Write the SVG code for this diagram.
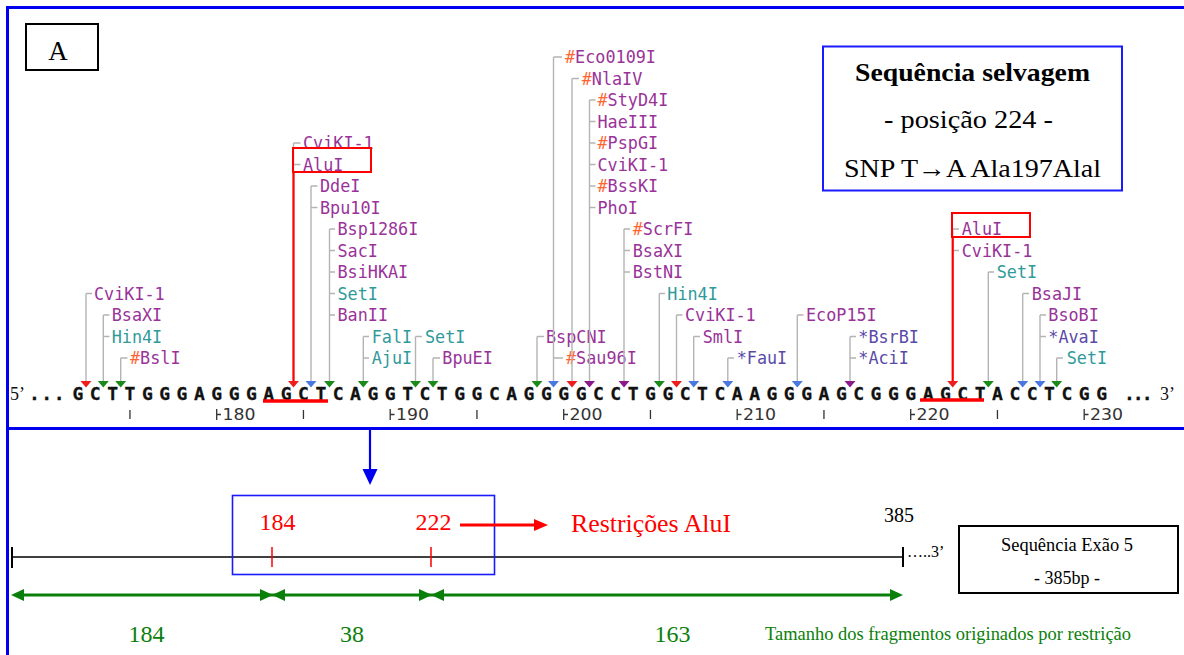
<svg xmlns="http://www.w3.org/2000/svg" width="1184" height="655" viewBox="0 0 1184 655">
<defs>
<style>
.lb{font-family:"DejaVu Sans Mono",monospace;font-size:16.8px}
.p{fill:#993399}.t{fill:#2f9a9a}.o{fill:#ff6633}.b{fill:#5a4aa8}
.stem{fill:none;stroke:#b4b4b4;stroke-width:1.4}
.tr{stroke:none}.tr-r{fill:#ee1c1c}.tr-g{fill:#1a8a1a}.tr-b{fill:#4a78e0}.tr-p{fill:#8a1a8a}
.redbox{fill:none;stroke:#ff0000;stroke-width:2}
.redln{stroke:#ff0000;stroke-width:2.2;fill:none}
.seq{font-family:"DejaVu Sans Mono",monospace;font-weight:bold;font-size:18px;fill:#111;stroke:#111;stroke-width:0.3}
.num{font-family:"DejaVu Sans",sans-serif;font-size:15px;fill:#333}
.tk{stroke:#333;stroke-width:1.3;fill:none}
.serif{font-family:"Liberation Serif","Times New Roman",serif}
.grn{fill:#0a800a}
</style>
</defs>

<!-- outer frame -->
<g id="frame" fill="none" stroke="#0000f0" stroke-width="3">
<path d="M7.5 655V7.5H1184"/>
<line x1="7.5" y1="428.5" x2="1184" y2="428.5"/>
</g>

<g id="label-A">
<rect x="26" y="24" width="72" height="46" fill="#fff" stroke="#000" stroke-width="2"/>
<text class="serif" x="58" y="60" font-size="27" text-anchor="middle">A</text>
</g>

<g id="title-box">
<rect x="823" y="46.5" width="299" height="144" fill="#fff" stroke="#1a1aff" stroke-width="2"/>
<text class="serif" x="972.5" y="81" font-size="26" font-weight="bold" text-anchor="middle" textLength="235" lengthAdjust="spacingAndGlyphs">Sequência selvagem</text>
<text class="serif" x="968.5" y="128" font-size="26" text-anchor="middle" textLength="169" lengthAdjust="spacingAndGlyphs">- posição 224 -</text>
<text class="serif" x="972.5" y="177" font-size="26" text-anchor="middle" textLength="257" lengthAdjust="spacingAndGlyphs">SNP T→A Ala197Alal</text>
</g>

<!-- enzyme groups -->
<g id="e-cviki1-a">
<path class="stem" d="M86 293.5V381M86 293.5H92"/>
<text class="lb p" x="94" y="299.5">CviKI-1</text>
<polygon class="tr tr-r" points="80.5,381 91.5,381 86,387.5"/>
</g>
<g id="e-bsaxi-a">
<path class="stem" d="M103.3 315V381M103.3 315H109.5M103.3 336.5H109.5"/>
<text class="lb p" x="111.7" y="321">BsaXI</text>
<text class="lb t" x="111.7" y="342.5">Hin4I</text>
<polygon class="tr tr-g" points="97.8,381 108.8,381 103.3,387.5"/>
</g>
<g id="e-bsli">
<path class="stem" d="M120.7 358V381M120.7 358H127.5"/>
<text class="lb p" x="130" y="364"><tspan class="o">#</tspan>BslI</text>
<polygon class="tr tr-g" points="115.2,381 126.2,381 120.7,387.5"/>
</g>
<g id="e-alui-1">
<path class="stem" d="M293.5 143V381M293.5 143H300.5M293.5 164.5H300.5"/>
<text class="lb p" x="303" y="149">CviKI-1</text>
<text class="lb p" x="303" y="170.5">AluI</text>
<rect class="redbox" x="293" y="148" width="78" height="24"/>
<path class="redln" d="M293.5 172V382"/>
<polygon class="tr tr-r" points="288,381 299,381 293.5,387.5"/>
</g>
<g id="e-ddei">
<path class="stem" d="M311 186V381M311 186H317.5M311 207.5H317.5"/>
<text class="lb p" x="320" y="192">DdeI</text>
<text class="lb p" x="320" y="213.5">Bpu10I</text>
<polygon class="tr tr-b" points="305.5,381 316.5,381 311,387.5"/>
</g>
<g id="e-bsp1286i">
<path class="stem" d="M329.5 229V381M329.5 229H335M329.5 250.5H335M329.5 272H335M329.5 293.5H335M329.5 315H335"/>
<text class="lb p" x="337.5" y="235">Bsp1286I</text>
<text class="lb p" x="337.5" y="256.5">SacI</text>
<text class="lb p" x="337.5" y="278">BsiHKAI</text>
<text class="lb t" x="337.5" y="299.5">SetI</text>
<text class="lb p" x="337.5" y="321">BanII</text>
<polygon class="tr tr-g" points="324,381 335,381 329.5,387.5"/>
</g>
<g id="e-fali">
<path class="stem" d="M363.3 336.5V381M363.3 336.5H369M363.3 358H369"/>
<text class="lb t" x="371.7" y="342.5">FalI</text>
<text class="lb t" x="371.7" y="364">AjuI</text>
<polygon class="tr tr-g" points="357.8,381 368.8,381 363.3,387.5"/>
</g>
<g id="e-seti-a">
<path class="stem" d="M415.5 336.5V381M415.5 336.5H422"/>
<text class="lb t" x="425" y="342.5">SetI</text>
<polygon class="tr tr-g" points="410,381 421,381 415.5,387.5"/>
</g>
<g id="e-bpuei">
<path class="stem" d="M433 358V381M433 358H440"/>
<text class="lb p" x="442.3" y="364">BpuEI</text>
<polygon class="tr tr-g" points="427.5,381 438.5,381 433,387.5"/>
</g>
<g id="e-bspcni">
<path class="stem" d="M537 336.5V381M537 336.5H544"/>
<text class="lb p" x="546" y="342.5">BspCNI</text>
<polygon class="tr tr-g" points="531.5,381 542.5,381 537,387.5"/>
</g>
<g id="e-eco0109i">
<path class="stem" d="M553.5 57V381M553.5 57H562M553.5 358H563"/>
<text class="lb p" x="565" y="63"><tspan class="o">#</tspan>Eco0109I</text>
<text class="lb p" x="566" y="364"><tspan class="o">#</tspan>Sau96I</text>
<polygon class="tr tr-b" points="548,381 559,381 553.5,387.5"/>
</g>
<g id="e-nlaiv">
<path class="stem" d="M572 78.5V381M572 78.5H579"/>
<text class="lb p" x="581.7" y="84.5"><tspan class="o">#</tspan>NlaIV</text>
<polygon class="tr tr-r" points="566.5,381 577.5,381 572,387.5"/>
</g>
<g id="e-styd4i">
<path class="stem" d="M589.5 100V381M589.5 100H595.5M589.5 121.5H595.5M589.5 143H595.5M589.5 164.5H595.5M589.5 186H595.5M589.5 207.5H595.5"/>
<text class="lb p" x="597.5" y="106"><tspan class="o">#</tspan>StyD4I</text>
<text class="lb p" x="597.5" y="127.5">HaeIII</text>
<text class="lb p" x="597.5" y="149"><tspan class="o">#</tspan>PspGI</text>
<text class="lb p" x="597.5" y="170.5">CviKI-1</text>
<text class="lb p" x="597.5" y="192"><tspan class="o">#</tspan>BssKI</text>
<text class="lb p" x="597.5" y="213.5">PhoI</text>
<polygon class="tr tr-p" points="584,381 595,381 589.5,387.5"/>
</g>
<g id="e-scrfi">
<path class="stem" d="M624 229V381M624 229H630M624 250.5H630M624 272H630"/>
<text class="lb p" x="632.7" y="235"><tspan class="o">#</tspan>ScrFI</text>
<text class="lb p" x="632.7" y="256.5">BsaXI</text>
<text class="lb p" x="632.7" y="278">BstNI</text>
<polygon class="tr tr-p" points="618.5,381 629.5,381 624,387.5"/>
</g>
<g id="e-hin4i-b">
<path class="stem" d="M659.3 293.5V381M659.3 293.5H665"/>
<text class="lb t" x="667.3" y="299.5">Hin4I</text>
<polygon class="tr tr-g" points="653.8,381 664.8,381 659.3,387.5"/>
</g>
<g id="e-cviki1-c">
<path class="stem" d="M676.5 315V381M676.5 315H682.5"/>
<text class="lb p" x="685" y="321">CviKI-1</text>
<polygon class="tr tr-r" points="671,381 682,381 676.5,387.5"/>
</g>
<g id="e-smli">
<path class="stem" d="M693.7 336.5V381M693.7 336.5H700"/>
<text class="lb p" x="702.7" y="342.5">SmlI</text>
<polygon class="tr tr-b" points="688.2,381 699.2,381 693.7,387.5"/>
</g>
<g id="e-faui">
<path class="stem" d="M727.8 358V381M727.8 358H734"/>
<text class="lb b" x="736.7" y="364">*FauI</text>
<polygon class="tr tr-b" points="722.3,381 733.3,381 727.8,387.5"/>
</g>
<g id="e-ecop15i">
<path class="stem" d="M797.3 315V381M797.3 315H803.5"/>
<text class="lb p" x="806" y="321">EcoP15I</text>
<polygon class="tr tr-b" points="791.8,381 802.8,381 797.3,387.5"/>
</g>
<g id="e-bsrbi">
<path class="stem" d="M850 336.5V381M850 336.5H856M850 358H856"/>
<text class="lb b" x="858.3" y="342.5">*BsrBI</text>
<text class="lb b" x="858.3" y="364">*AciI</text>
<polygon class="tr tr-p" points="844.5,381 855.5,381 850,387.5"/>
</g>
<g id="e-alui-2">
<path class="stem" d="M952.7 229V381M952.7 229H959M952.7 250.5H959"/>
<text class="lb p" x="961.7" y="235">AluI</text>
<text class="lb p" x="961.7" y="256.5">CviKI-1</text>
<rect class="redbox" x="952" y="213" width="78" height="24"/>
<path class="redln" d="M952.7 237V382"/>
<polygon class="tr tr-r" points="947.2,381 958.2,381 952.7,387.5"/>
</g>
<g id="e-seti-b">
<path class="stem" d="M988.3 272V381M988.3 272H994"/>
<text class="lb t" x="996.7" y="278">SetI</text>
<polygon class="tr tr-g" points="982.8,381 993.8,381 988.3,387.5"/>
</g>
<g id="e-bsaji">
<path class="stem" d="M1022.7 293.5V381M1022.7 293.5H1029"/>
<text class="lb p" x="1031.7" y="299.5">BsaJI</text>
<polygon class="tr tr-b" points="1017.2,381 1028.2,381 1022.7,387.5"/>
</g>
<g id="e-bsobi">
<path class="stem" d="M1040 315V381M1040 315H1046M1040 336.5H1046"/>
<text class="lb p" x="1048.3" y="321">BsoBI</text>
<text class="lb b" x="1048.3" y="342.5">*AvaI</text>
<polygon class="tr tr-b" points="1034.5,381 1045.5,381 1040,387.5"/>
</g>
<g id="e-seti-c">
<path class="stem" d="M1056.7 358V381M1056.7 358H1063"/>
<text class="lb t" x="1066.7" y="364">SetI</text>
<polygon class="tr tr-g" points="1051.2,381 1062.2,381 1056.7,387.5"/>
</g>

<!-- sequence -->
<g id="sequence">
<text class="serif" x="10" y="400" font-size="18" fill="#111">5’</text>
<text class="seq" x="29" y="400" letter-spacing="1.5">...</text>
<text class="seq" text-anchor="middle" y="400" x="77.9 95.25 112.6 129.95 147.3 164.65 182 199.35 216.7 234.05 251.4 268.75 286.1 303.45 320.8 338.15 355.5 372.85 390.2 407.55 424.9 442.25 459.6 476.95 494.3 511.65 529 546.35 563.7 581.05 598.4 615.75 633.1 650.45 667.8 685.15 702.5 719.85 737.2 754.55 771.9 789.25 806.6 823.95 841.3 858.65 876 893.35 910.7 928.05 945.4 962.75 980.1 997.45 1014.8 1032.15 1049.5 1066.85 1084.2 1101.55">GCTTGGGAGGGAGCTCAGGTCTGGCAGGGGCCTGGCTCAAGGGAGCGGGAGCTACCTCGG</text>
<text class="seq" x="1124" y="400" letter-spacing="-2">...</text>
<text class="serif" x="1160" y="400" font-size="18" fill="#111">3’</text>
<path d="M263 401H328M920 400H984" stroke="#ff0000" stroke-width="3.5" fill="none"/>
</g>

<g id="ruler">
<path class="tk" d="M129.95 410V419M303.45 410V419M476.95 410V419M650.45 410V419M823.95 410V419M997.45 410V419"/>
<path class="tk" d="M216.7 409V420M216.7 414.5H221M390.2 409V420M390.2 414.5H394.5M563.7 409V420M563.7 414.5H568M737.2 409V420M737.2 414.5H741.5M910.7 409V420M910.7 414.5H915M1084.2 409V420M1084.2 414.5H1088.5"/>
<text class="num" x="222.5" y="420" textLength="33" lengthAdjust="spacingAndGlyphs">180</text>
<text class="num" x="396" y="420" textLength="33" lengthAdjust="spacingAndGlyphs">190</text>
<text class="num" x="569.5" y="420" textLength="33" lengthAdjust="spacingAndGlyphs">200</text>
<text class="num" x="743" y="420" textLength="33" lengthAdjust="spacingAndGlyphs">210</text>
<text class="num" x="916.5" y="420" textLength="33" lengthAdjust="spacingAndGlyphs">220</text>
<text class="num" x="1090" y="420" textLength="33" lengthAdjust="spacingAndGlyphs">230</text>
</g>

<!-- lower section -->
<g id="exon-line">
<path d="M12 557H903" stroke="#000" stroke-width="1.5" fill="none"/>
<path d="M12 547V568M903 547V567" stroke="#000" stroke-width="2" fill="none"/>
<path d="M272 547V567M431 547V567" stroke="#ff0000" stroke-width="1.5" fill="none"/>
<text class="serif" x="884" y="522" font-size="20">385</text>
<text class="serif" x="907" y="557" font-size="16">…..3’</text>
</g>

<g id="zoom-box">
<rect x="232.5" y="495.5" width="262" height="79" fill="none" stroke="#1a1aff" stroke-width="1.6"/>
<text class="serif" x="277.5" y="530" font-size="24" fill="#ff0000" text-anchor="middle">184</text>
<text class="serif" x="433.5" y="530" font-size="24" fill="#ff0000" text-anchor="middle">222</text>
</g>

<g id="restricoes-label">
<text class="serif" x="571" y="532" font-size="25" fill="#ff0000" textLength="160" lengthAdjust="spacingAndGlyphs">Restrições AluI</text>
</g>

<g id="exon-box">
<rect x="959" y="526" width="219" height="67" fill="#fff" stroke="#000" stroke-width="2"/>
<text class="serif" x="1067" y="551" font-size="18" text-anchor="middle" textLength="132" lengthAdjust="spacingAndGlyphs">Sequência Exão 5</text>
<text class="serif" x="1067" y="584" font-size="18" text-anchor="middle">- 385bp -</text>
</g>

<g id="fragments">
<text class="serif grn" x="146.5" y="642" font-size="24" text-anchor="middle">184</text>
<text class="serif grn" x="352" y="642" font-size="24" text-anchor="middle">38</text>
<text class="serif grn" x="672.5" y="642" font-size="24" text-anchor="middle">163</text>
<text class="serif grn" x="765" y="640" font-size="18" textLength="366" lengthAdjust="spacingAndGlyphs">Tamanho dos fragmentos originados por restrição</text>
</g>

<g id="connectors">
<path d="M370 429V472" stroke="#0000f0" stroke-width="2.2" fill="none"/>
<polygon points="362.5,469 377.5,469 370,485" fill="#0000f0"/>
<path d="M460 525H536" stroke="#ff0000" stroke-width="3" fill="none"/>
<polygon points="534,519 548,525 534,531" fill="#ff0000"/>
<path d="M20 595H895" stroke="#0a800a" stroke-width="3" fill="none"/>
<g fill="#0a800a">
<polygon points="11,595 24,589 24,601"/>
<polygon points="273,595 260,589 260,601"/>
<polygon points="272,595 285,589 285,601"/>
<polygon points="432,595 419,589 419,601"/>
<polygon points="431,595 444,589 444,601"/>
<polygon points="903,595 890,589 890,601"/>
</g>
</g>
</svg>
